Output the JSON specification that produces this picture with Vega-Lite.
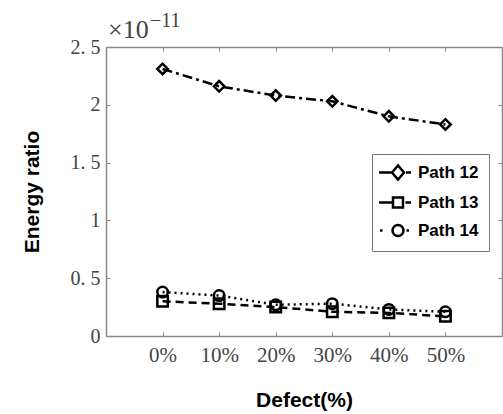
{
  "$schema": "https://vega.github.io/schema/vega-lite/v6.json",
  "autosize": {"type": "none"},
  "padding": {"left": 106, "top": 47, "right": 1, "bottom": 78},
  "width": 396,
  "height": 289,
  "background": "white",
  "config": {
    "view": {"stroke": null},
    "axis": {"grid": false, "domainColor": "#888", "domainWidth": 1.5, "tickColor": "#888", "tickSize": -4, "tickWidth": 1,
      "labelFont": "Liberation Serif", "labelFontSize": 20, "labelColor": "#444",
      "titleFont": "Liberation Sans", "titleFontWeight": "bold", "titleFontSize": 21, "titleColor": "#000"}
  },
  "data": {"values": [
    {"defect": 0, "series": "Path 12", "name": "Path 12", "value": 2.31},
    {"defect": 1, "series": "Path 12", "name": "Path 12", "value": 2.16},
    {"defect": 2, "series": "Path 12", "name": "Path 12", "value": 2.08},
    {"defect": 3, "series": "Path 12", "name": "Path 12", "value": 2.03},
    {"defect": 4, "series": "Path 12", "name": "Path 12", "value": 1.90},
    {"defect": 5, "series": "Path 12", "name": "Path 12", "value": 1.83},
    {"defect": 0, "series": "Path 13", "name": "Path 13", "value": 0.30},
    {"defect": 1, "series": "Path 13", "name": "Path 13", "value": 0.28},
    {"defect": 2, "series": "Path 13", "name": "Path 13", "value": 0.25},
    {"defect": 3, "series": "Path 13", "name": "Path 13", "value": 0.21},
    {"defect": 4, "series": "Path 13", "name": "Path 13", "value": 0.20},
    {"defect": 5, "series": "Path 13", "name": "Path 13", "value": 0.17},
    {"defect": 0, "series": "Path 14", "name": "Path 14", "value": 0.38},
    {"defect": 1, "series": "Path 14", "name": "Path 14", "value": 0.35},
    {"defect": 2, "series": "Path 14", "name": "Path 14", "value": 0.27},
    {"defect": 3, "series": "Path 14", "name": "Path 14", "value": 0.28},
    {"defect": 4, "series": "Path 14", "name": "Path 14", "value": 0.23},
    {"defect": 5, "series": "Path 14", "name": "Path 14", "value": 0.21}
  ]},
  "resolve": {"axis": {"x": "independent", "y": "independent"}, "scale": {"shape": "independent"}, "legend": {"shape": "independent"}},
  "layer": [
    {
      "transform": [{"filter": "datum.series === 'Path 12'"}],
      "mark": {"type": "line", "stroke": "black", "strokeWidth": 2.5, "strokeDash": [10, 4, 3, 4]},
      "encoding": {
        "x": {"field": "defect", "type": "quantitative", "scale": {"domain": [-1, 6], "nice": false, "zero": false},
          "axis": {"values": [0, 1, 2, 3, 4, 5], "labelExpr": "datum.value * 10 + '%'", "title": "Defect(%)", "labelPadding": 12, "labelFontSize": 21, "titlePadding": 24}},
        "y": {"field": "value", "type": "quantitative", "scale": {"domain": [0, 2.5], "nice": false},
          "axis": {"values": [0, 0.5, 1, 1.5, 2, 2.5], "labelExpr": "replace(format(datum.value, '~g'), '.', '. ')", "title": "Energy ratio", "labelPadding": 10, "titlePadding": 28}}
      }
    },
    {
      "transform": [{"filter": "datum.series === 'Path 13'"}],
      "mark": {"type": "line", "stroke": "black", "strokeWidth": 2.5, "strokeDash": [8, 5]},
      "encoding": {
        "x": {"field": "defect", "type": "quantitative", "axis": null},
        "y": {"field": "value", "type": "quantitative", "axis": null}
      }
    },
    {
      "transform": [{"filter": "datum.series === 'Path 14'"}],
      "mark": {"type": "line", "stroke": "black", "strokeWidth": 2.5, "strokeDash": [2, 4]},
      "encoding": {
        "x": {"field": "defect", "type": "quantitative", "axis": null},
        "y": {"field": "value", "type": "quantitative", "axis": null}
      }
    },
    {
      "mark": {"type": "point", "filled": false, "stroke": "black", "strokeWidth": 2.5, "size": 110, "opacity": 1},
      "encoding": {
        "x": {"field": "defect", "type": "quantitative", "axis": {"orient": "top", "values": [0, 1, 2, 3, 4, 5], "labels": false, "title": null}},
        "y": {"field": "value", "type": "quantitative", "axis": {"orient": "right", "values": [0, 0.5, 1, 1.5, 2, 2.5], "labels": false, "title": null}},
        "shape": {"field": "series", "type": "nominal",
          "scale": {"domain": ["Path 12", "Path 13", "Path 14"], "range": ["diamond", "square", "circle"]},
          "legend": null}
      }
    },
    {
      "mark": {"type": "point", "filled": false, "stroke": "black", "strokeWidth": 2.5, "size": 0, "opacity": 1},
      "encoding": {
        "x": {"field": "defect", "type": "quantitative", "axis": null},
        "y": {"field": "value", "type": "quantitative", "axis": null},
        "shape": {"field": "name", "type": "nominal",
          "scale": {"domain": ["Path 12", "Path 13", "Path 14"],
            "range": ["M-2.3,0H0.3M0.3,0L1.5,-1.4L2.7,0L1.5,1.4ZM3.1,0H4.1", "M-2.3,0H0.5M0.5,-1H2.5V1H0.5ZM3,0H4.1", "M-2.1,0H-1.6M0.4,0A1.1,1.1,0,1,0,2.6,0A1.1,1.1,0,1,0,0.4,0ZM3.2,0H3.7"]},
          "legend": {"title": null, "orient": "none", "legendX": 266, "legendY": 107,
            "strokeColor": "#777", "fillColor": "white", "padding": 10,
            "labelFont": "Liberation Sans", "labelFontWeight": "bold", "labelFontSize": 17, "labelColor": "#000",
            "symbolSize": 100, "symbolStrokeColor": "black", "symbolStrokeWidth": 2.5, "symbolFillColor": "transparent", "symbolOpacity": 1,
            "labelOffset": 19, "rowPadding": 7}}
      }
    },
    {
      "data": {"values": [{"t": "×10"}]},
      "mark": {"type": "text", "align": "left", "baseline": "alphabetic", "font": "Liberation Serif", "fontSize": 26, "fill": "#444", "dx": 2, "dy": -9},
      "encoding": {
        "x": {"datum": -1, "type": "quantitative", "axis": null},
        "y": {"datum": 2.5, "type": "quantitative", "axis": null},
        "text": {"field": "t"}
      }
    },
    {
      "data": {"values": [{"t": "−11"}]},
      "mark": {"type": "text", "align": "left", "baseline": "alphabetic", "font": "Liberation Serif", "fontSize": 20, "fill": "#444", "dx": 44, "dy": -20},
      "encoding": {
        "x": {"datum": -1, "type": "quantitative", "axis": null},
        "y": {"datum": 2.5, "type": "quantitative", "axis": null},
        "text": {"field": "t"}
      }
    }
  ]
}
